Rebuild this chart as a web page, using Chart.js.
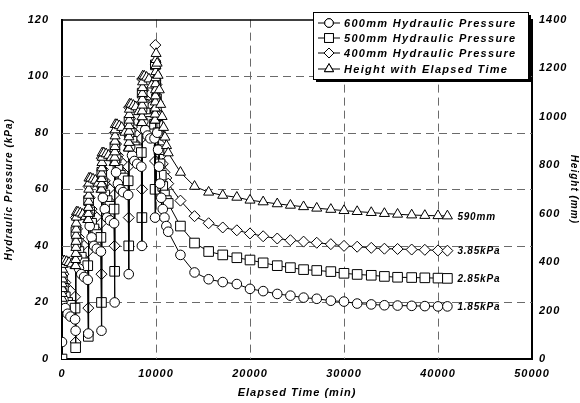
<!DOCTYPE html>
<html>
<head>
<meta charset="utf-8">
<title>Hydraulic Pressure and Height</title>
<script src="https://cdn.jsdelivr.net/npm/chart.js"></script>
<style>
  html, body { margin: 0; padding: 0; background: #fff; }
  #wrap { width: 580px; height: 403px; }
</style>
</head>
<body>
<div id="wrap"><canvas id="grafico" width="580" height="403"></canvas></div>
<script>
// ---- datos ----
// tiempos (min) de la etapa de llenado, compartidos por las tres presiones
const loadTime = [
  0, 30, 150, 350, 600, 900, 1390,
  1450, 1480, 1600, 1800, 2050, 2350, 2740,
  2800, 2830, 2950, 3150, 3400, 3700, 4140,
  4200, 4230, 4350, 4550, 4800, 5100, 5540,
  5600, 5630, 5750, 5950, 6200, 6500, 7040,
  7100, 7130, 7250, 7450, 7700, 8000, 8440,
  8500, 8530, 8650, 8850, 9100, 9400, 9840,
  9900, 9930, 9980, 10050, 10130, 10220, 10320, 10430, 10560, 10720, 10900, 11100
];
const p600Load = [
  6, 24, 21, 18, 16, 15, 14,
  10, 40, 36, 32, 30, 29, 28,
  9, 51, 47, 43, 40, 39, 38,
  10, 61, 57, 53, 50, 49, 48,
  20, 70, 66, 62, 60, 59, 58,
  30, 79, 75, 72, 70, 69, 68,
  40, 88, 84, 81, 79, 78, 78,
  50, 98, 92, 86, 80, 74, 68, 62, 57, 53, 50, 47
];
const p500Load = [
  0, 28, 25, 22, 20, 19, 18,
  4, 45, 41, 38, 36, 34, 33,
  8, 56, 52, 48, 46, 44, 43,
  20, 66, 62, 58, 56, 54, 53,
  31, 75, 71, 67, 65, 64, 63,
  40, 84, 80, 77, 75, 74, 73,
  50, 94, 90, 87, 85, 84, 83,
  60, 104, 98, 92, 86, 80, 74, 69, 65, 61, 58, 56
];
const p400Load = [
  0, 33, 30, 27, 25, 24, 22,
  6, 50, 46, 43, 41, 40, 38,
  18, 61, 57, 53, 51, 50, 48,
  30, 71, 67, 63, 61, 60, 58,
  40, 80, 76, 72, 70, 69, 68,
  50, 89, 85, 82, 80, 79, 78,
  60, 99, 95, 92, 90, 89, 88,
  70, 111, 104, 97, 91, 85, 80, 76, 72, 69, 66, 64
];

// altura durante el llenado (mm)
const heightLoadTime = [
  0, 10, 20, 30, 40, 50, 60, 70, 80, 250, 500, 750, 1050, 1390,
  1450, 1460, 1470, 1480, 1490, 1500, 1510, 1520, 1530, 1540, 1700, 1950, 2200, 2500, 2740,
  2800, 2810, 2820, 2830, 2840, 2850, 2860, 2870, 3050, 3300, 3550, 3850, 4140,
  4200, 4210, 4220, 4230, 4240, 4250, 4260, 4270, 4450, 4700, 4950, 5250, 5540,
  5600, 5610, 5620, 5630, 5640, 5650, 5660, 5670, 5850, 6100, 6350, 6700, 7040,
  7100, 7110, 7120, 7130, 7140, 7150, 7160, 7170, 7180, 7350, 7600, 7850, 8150, 8440,
  8500, 8510, 8520, 8530, 8540, 8550, 8560, 8570, 8580, 8750, 9000, 9250, 9550, 9840,
  9900, 9910, 9920, 9930, 9940, 9950, 9960, 9970, 9980, 9990, 10000, 10010,
  10120, 10220, 10350, 10500, 10650, 10800, 10950, 11120
];
const heightLoad = [
  250, 270, 290, 310, 330, 350, 370, 390, 405, 405, 402, 398, 392, 385,
  385, 410, 435, 460, 485, 510, 535, 560, 585, 606, 606, 602, 597, 588, 575,
  575, 600, 625, 650, 675, 700, 725, 746, 746, 742, 737, 725, 700,
  700, 722, 744, 766, 788, 810, 832, 850, 850, 846, 840, 830, 810,
  810, 832, 854, 876, 898, 920, 945, 967, 967, 962, 955, 935, 870,
  870, 893, 916, 939, 962, 985, 1008, 1030, 1051, 1051, 1046, 1040, 1020, 975,
  975, 999, 1023, 1047, 1071, 1095, 1119, 1143, 1167, 1167, 1162, 1155, 1130, 985,
  985, 1010, 1035, 1060, 1085, 1110, 1135, 1160, 1185, 1210, 1235, 1260,
  1220, 1170, 1110, 1050, 1000, 955, 915, 880
];

// etapa de consolidacion (min)
const consTime = [11300, 12600, 14100, 15600, 17100, 18600, 20000, 21400, 22900, 24300, 25700,
  27100, 28600, 30000, 31400, 32900, 34300, 35700, 37200, 38600, 40000, 41000];
const p600Cons = [45, 36.8, 30.6, 28.2, 27.2, 26.5, 24.8, 24, 23, 22.4, 21.7,
  21.3, 20.6, 20.3, 19.6, 19.3, 19, 18.9, 18.8, 18.7, 18.6, 18.6];
const p500Cons = [55, 47, 41, 38, 36.8, 35.8, 35, 34, 33, 32.3, 31.6,
  31.3, 30.9, 30.3, 29.9, 29.6, 29.2, 28.9, 28.8, 28.7, 28.6, 28.5];
const p400Cons = [62, 56, 50.5, 48, 46.5, 45.5, 44.4, 43.4, 42.6, 42, 41.5,
  41.1, 40.6, 40, 39.7, 39.3, 39, 38.9, 38.7, 38.6, 38.4, 38.3];
const heightCons = [850, 770, 712, 688, 675, 667, 655, 648, 640, 634, 628,
  622, 617, 612, 608, 604, 600, 597, 594, 592, 591, 590];

const seriesNames = ['600mm Hydraulic Pressure', '500mm Hydraulic Pressure',
  '400mm Hydraulic Pressure', 'Height with Elapsed Time'];
const endLabels = ['1.85kPa', '2.85kPa', '3.85kPa', '590mm'];
const xTicks = [0, 10000, 20000, 30000, 40000, 50000];
const yTicks = [0, 20, 40, 60, 80, 100, 120];
const y2Ticks = [0, 200, 400, 600, 800, 1000, 1200, 1400];
const xGrid = [10000, 20000, 30000, 40000];
const yGrid = [20, 40, 60, 80, 100];

// ---- armado ----
function puntos(ts, vs) {
  return ts.map((t, i) => ({ x: t, y: vs[i] }));
}

const fuente = { family: "'Liberation Sans', Arial, sans-serif", size: 11, style: 'italic', weight: 'bold' };

function serie(label, data, estilo, radio, eje, orden) {
  return {
    label: label,
    data: data,
    yAxisID: eje,
    showLine: true,
    borderColor: '#000',
    borderWidth: 1,
    pointStyle: estilo,
    pointRadius: radio,
    pointBackgroundColor: '#fff',
    pointBorderColor: '#000',
    pointBorderWidth: 1,
    order: orden
  };
}

const datasets = [
  serie(seriesNames[0], puntos(loadTime, p600Load).concat(puntos(consTime, p600Cons)), 'circle', 4.8, 'y', 1),
  serie(seriesNames[1], puntos(loadTime, p500Load).concat(puntos(consTime, p500Cons)), 'rect', 6.8, 'y', 2),
  serie(seriesNames[2], puntos(loadTime, p400Load).concat(puntos(consTime, p400Cons)), 'rectRot', 5.5, 'y', 3),
  serie(seriesNames[3], puntos(heightLoadTime, heightLoad).concat(puntos(consTime, heightCons)), 'triangle', 5.8, 'y2', 0)
];

const sinComas = (v) => String(v);

// rejilla punteada, leyenda dentro del grafico, etiquetas finales, borde superior
const extras = {
  id: 'extras',
  beforeDraw(chart) {
    chart.ctx.letterSpacing = '1px';
  },
  beforeDatasetsDraw(chart) {
    const ctx = chart.ctx;
    const a = chart.chartArea;
    const sx = chart.scales.x, sy = chart.scales.y;
    ctx.save();
    ctx.strokeStyle = '#6a6a6a';
    ctx.lineWidth = 1;
    ctx.setLineDash([8, 5]);
    xGrid.forEach(v => {
      const px = Math.round(sx.getPixelForValue(v)) + 0.5;
      ctx.beginPath();
      ctx.moveTo(px, a.top);
      ctx.lineTo(px, a.bottom);
      ctx.stroke();
    });
    yGrid.forEach(v => {
      const py = Math.round(sy.getPixelForValue(v)) + 0.5;
      ctx.beginPath();
      ctx.moveTo(a.left, py);
      ctx.lineTo(a.right, py);
      ctx.stroke();
    });
    ctx.restore();
  },
  afterDraw(chart) {
    const ctx = chart.ctx;
    const a = chart.chartArea;
    ctx.save();
    ctx.letterSpacing = '0px';
    ctx.strokeStyle = '#000';
    ctx.lineWidth = 1.5;
    ctx.beginPath();
    ctx.moveTo(a.left, a.top + 0.5);
    ctx.lineTo(a.right, a.top + 0.5);
    ctx.stroke();

    // etiquetas al final de cada curva
    ctx.font = "italic bold 10px 'Liberation Sans', Arial, sans-serif";
    ctx.letterSpacing = '0.8px';
    ctx.fillStyle = '#000';
    ctx.textBaseline = 'middle';
    chart.data.datasets.forEach((ds, i) => {
      const meta = chart.getDatasetMeta(i);
      const p = meta.data[meta.data.length - 1];
      ctx.fillText(endLabels[i], p.x + 10, p.y + 1);
    });

    // leyenda
    const bx = 313, by = 12, bw = 215, bh = 67;
    ctx.fillStyle = '#000';
    ctx.fillRect(bx + 3, by + 3, bw, bh);
    ctx.fillStyle = '#fff';
    ctx.fillRect(bx, by, bw, bh);
    ctx.lineWidth = 1;
    ctx.strokeStyle = '#000';
    ctx.strokeRect(bx + 0.5, by + 0.5, bw, bh);
    const filas = [23, 38, 53, 69];
    ctx.font = "italic bold 11px 'Liberation Sans', Arial, sans-serif";
    ctx.letterSpacing = '1.3px';
    chart.data.datasets.forEach((ds, i) => {
      const y = filas[i];
      ctx.beginPath();
      ctx.moveTo(318, y);
      ctx.lineTo(340, y);
      ctx.stroke();
      ctx.fillStyle = '#fff';
      Chart.helpers.drawPoint(ctx, {
        pointStyle: ds.pointStyle, radius: ds.pointRadius - 0.5, rotation: 0, borderWidth: 1
      }, 329, y);
      ctx.fill();
      ctx.stroke();
      ctx.fillStyle = '#000';
      ctx.fillText(seriesNames[i], 344, y + 1);
    });
    ctx.restore();
    ctx.letterSpacing = '0px';
  }
};

new Chart(document.getElementById('grafico'), {
  type: 'scatter',
  data: { datasets: datasets },
  options: {
    responsive: false,
    animation: false,
    devicePixelRatio: 1,
    layout: { padding: { top: 10, right: 0, left: 0, bottom: 0 } },
    plugins: { legend: { display: false }, tooltip: { enabled: false } },
    scales: {
      x: {
        type: 'linear',
        min: xTicks[0], max: xTicks[xTicks.length - 1],
        afterBuildTicks: (s) => { s.ticks = xTicks.map(v => ({ value: v })); },
        afterFit: (s) => { s.height = 44; },
        ticks: { color: '#000', font: fuente, padding: 8, callback: sinComas },
        grid: { display: false, drawTicks: false },
        border: { display: true, color: '#000', width: 2 },
        title: { display: true, text: 'Elapsed Time (min)', color: '#000', font: fuente, padding: { top: 0, bottom: 3 } }
      },
      y: {
        position: 'left',
        min: yTicks[0], max: yTicks[yTicks.length - 1],
        afterBuildTicks: (s) => { s.ticks = yTicks.map(v => ({ value: v })); },
        afterFit: (s) => { s.width = 62; },
        ticks: { color: '#000', font: fuente, padding: 13, callback: sinComas },
        grid: { display: false, drawTicks: false },
        border: { display: true, color: '#000', width: 2 },
        title: { display: true, text: 'Hydraulic Pressure (kPa)', color: '#000', font: { ...fuente, size: 10 }, padding: { top: 3, bottom: 0 } }
      },
      y2: {
        position: 'right',
        min: y2Ticks[0], max: y2Ticks[y2Ticks.length - 1],
        afterBuildTicks: (s) => { s.ticks = y2Ticks.map(v => ({ value: v })); },
        afterFit: (s) => { s.width = 48; },
        ticks: { color: '#000', font: fuente, padding: 7, callback: sinComas },
        grid: { display: false, drawTicks: false },
        border: { display: true, color: '#000', width: 2 },
        title: { display: true, text: 'Height (mm)', color: '#000', font: { ...fuente, size: 10 }, padding: { top: 0, bottom: 1 } }
      }
    }
  },
  plugins: [extras]
});
</script>
</body>
</html>
